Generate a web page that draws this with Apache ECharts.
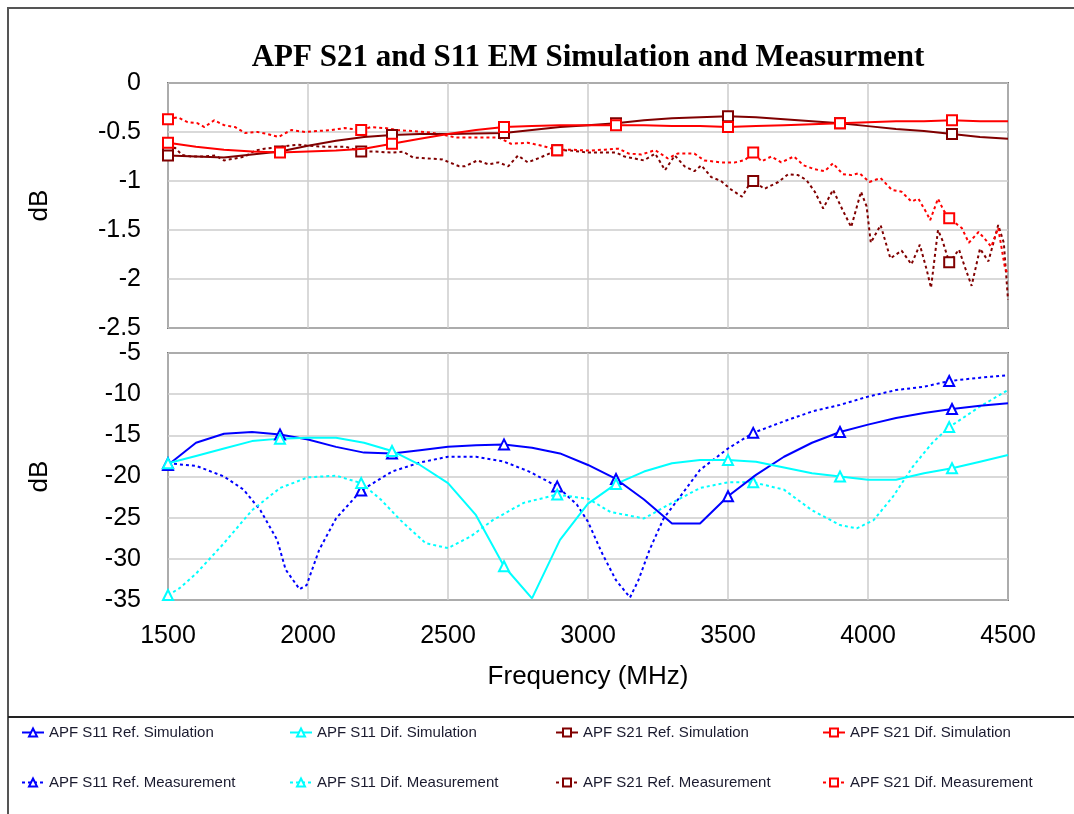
<!DOCTYPE html>
<html>
<head>
<meta charset="utf-8">
<script src="https://cdn.jsdelivr.net/npm/echarts@6/dist/echarts.min.js"></script>
<style>
html,body{margin:0;padding:0;background:#fff;}
#chart{width:1074px;height:814px;}
</style>
</head>
<body>
<div id="chart"></div>
<script>
// ---------- DATA ----------
var titleText = 'APF S21 and S11 EM Simulation and Measurment';
var xAxisTitle = 'Frequency (MHz)';
var yAxisTitle = 'dB';

var simFreq = [1500,1600,1700,1800,1900,2000,2100,2200,2300,2400,2500,2600,2700,2800,2900,3000,3100,3200,3300,3400,3500,3600,3700,3800,3900,4000,4100,4200,4300,4400,4500];
var simMarkerFreq = [1500,1900,2300,2700,3100,3500,3900,4300];
var measMarkerFreq = [1500,2190,2890,3590,4290];

var s11RefSim = [-18.6,-15.9,-14.8,-14.6,-14.9,-15.5,-16.4,-17.1,-17.2,-16.8,-16.4,-16.2,-16.1,-16.5,-17.2,-18.6,-20.3,-22.8,-25.7,-25.7,-22.4,-19.8,-17.6,-15.9,-14.6,-13.7,-12.9,-12.3,-11.8,-11.4,-11.1];
var s11DifSim = [-18.4,-17.5,-16.6,-15.7,-15.4,-15.3,-15.3,-15.9,-16.9,-18.6,-20.8,-24.7,-30.9,-34.8,-27.7,-23.3,-20.9,-19.4,-18.4,-18.0,-18.0,-18.2,-18.9,-19.6,-20.0,-20.4,-20.4,-19.6,-19.0,-18.2,-17.4];
var s21RefSim = [-0.74,-0.75,-0.76,-0.73,-0.70,-0.64,-0.59,-0.55,-0.53,-0.52,-0.52,-0.515,-0.51,-0.48,-0.45,-0.43,-0.41,-0.38,-0.36,-0.35,-0.34,-0.35,-0.37,-0.39,-0.41,-0.44,-0.47,-0.49,-0.52,-0.55,-0.57];
var s21DifSim = [-0.61,-0.65,-0.68,-0.70,-0.71,-0.70,-0.69,-0.67,-0.62,-0.57,-0.52,-0.48,-0.45,-0.44,-0.43,-0.43,-0.43,-0.43,-0.44,-0.44,-0.45,-0.44,-0.43,-0.42,-0.41,-0.40,-0.39,-0.39,-0.38,-0.39,-0.39];

var s11RefMeasFreq = [1500,1600,1700,1770,1830,1890,1920,1970,1995,2040,2100,2190,2300,2400,2500,2600,2700,2790,2890,2960,3000,3050,3100,3150,3180,3220,3270,3330,3400,3500,3590,3700,3800,3900,4000,4100,4200,4290,4400,4500];
var s11RefMeas = [-18.4,-18.7,-20.0,-21.6,-24.1,-27.7,-31.3,-33.7,-33.2,-28.9,-25.1,-21.7,-19.4,-18.3,-17.6,-17.6,-18.2,-19.4,-21.2,-23.4,-25.5,-29.3,-32.6,-34.7,-32.6,-28.9,-25.1,-22.4,-19.2,-16.6,-14.7,-13.3,-12.1,-11.3,-10.3,-9.5,-9.1,-8.4,-8.0,-7.7];

var s11DifMeasFreq = [1500,1540,1600,1700,1800,1900,2000,2100,2190,2260,2330,2420,2500,2580,2660,2770,2890,3000,3080,3200,3300,3400,3500,3590,3700,3800,3900,3960,4020,4090,4160,4230,4290,4400,4500];
var s11DifMeas = [-34.4,-33.6,-31.8,-28.1,-24.1,-21.4,-20.1,-19.9,-20.8,-22.8,-25.3,-28.1,-28.7,-27.3,-25.3,-23.2,-22.2,-22.7,-24.3,-25.1,-23.2,-21.4,-20.7,-20.7,-21.6,-24.1,-25.9,-26.3,-25.3,-22.4,-18.8,-15.9,-14.0,-11.5,-9.5];

var s21RefMeasFreq = [1500,1525,1550,1585,1630,1670,1700,1740,1775,1810,1845,1890,1930,1965,2000,2060,2135,2190,2240,2300,2340,2375,2430,2480,2540,2560,2605,2645,2680,2715,2750,2785,2830,2890,2940,3000,3060,3100,3130,3200,3240,3275,3310,3345,3380,3405,3440,3475,3510,3550,3575,3590,3630,3680,3715,3750,3780,3810,3840,3875,3910,3940,3975,3995,4010,4045,4080,4120,4155,4185,4210,4225,4250,4265,4290,4325,4345,4370,4400,4430,4465,4485,4500];
var s21RefMeas = [-0.69,-0.66,-0.735,-0.75,-0.75,-0.74,-0.79,-0.77,-0.75,-0.69,-0.67,-0.66,-0.64,-0.63,-0.64,-0.65,-0.65,-0.70,-0.70,-0.71,-0.70,-0.76,-0.77,-0.78,-0.85,-0.85,-0.79,-0.83,-0.81,-0.85,-0.74,-0.81,-0.76,-0.685,-0.69,-0.71,-0.71,-0.71,-0.75,-0.79,-0.72,-0.89,-0.74,-0.85,-0.90,-0.84,-0.96,-1.00,-1.085,-1.16,-1.04,-1.00,-1.08,-1.01,-0.93,-0.94,-0.99,-1.11,-1.28,-1.09,-1.30,-1.47,-1.11,-1.26,-1.63,-1.45,-1.79,-1.71,-1.85,-1.65,-1.91,-2.09,-1.50,-1.60,-1.83,-1.70,-1.87,-2.07,-1.69,-1.82,-1.45,-1.63,-2.21];

var s21DifMeasFreq = [1500,1535,1570,1605,1630,1665,1700,1740,1775,1820,1855,1895,1940,1990,2035,2085,2130,2190,2225,2275,2320,2370,2420,2470,2525,2600,2680,2725,2785,2835,2890,2940,3000,3060,3110,3145,3190,3240,3285,3320,3380,3415,3475,3525,3560,3590,3620,3655,3690,3735,3770,3810,3845,3875,3910,3940,3970,4005,4045,4085,4120,4155,4180,4210,4222,4250,4270,4290,4335,4360,4395,4420,4440,4465,4490,4500];
var s21DifMeas = [-0.37,-0.35,-0.40,-0.41,-0.45,-0.38,-0.43,-0.45,-0.51,-0.50,-0.52,-0.55,-0.48,-0.50,-0.49,-0.48,-0.46,-0.48,-0.45,-0.46,-0.48,-0.49,-0.50,-0.52,-0.555,-0.555,-0.555,-0.62,-0.61,-0.64,-0.685,-0.68,-0.69,-0.68,-0.67,-0.72,-0.73,-0.685,-0.77,-0.72,-0.72,-0.79,-0.81,-0.81,-0.786,-0.71,-0.80,-0.75,-0.81,-0.75,-0.84,-0.88,-0.90,-0.82,-0.93,-0.94,-0.92,-1.01,-0.97,-1.09,-1.11,-1.21,-1.18,-1.33,-1.40,-1.18,-1.30,-1.38,-1.48,-1.63,-1.52,-1.60,-1.67,-1.48,-1.90,-1.94];

// ---------- CHART ----------
var FONT = '"Liberation Sans", Arial, sans-serif';
var chart = echarts.init(document.getElementById('chart'), null, {renderer: 'canvas'});

function buildData(freqs, vals, markers, sym) {
  return freqs.map(function (f, i) {
    return { value: [f, vals[i]], symbol: markers.indexOf(f) >= 0 ? sym : 'none' };
  });
}

function mkSeries(name, freqs, vals, markers, sym, color, dashed, gridIdx) {
  return {
    name: name,
    type: 'line',
    xAxisIndex: gridIdx,
    yAxisIndex: gridIdx,
    data: buildData(freqs, vals, markers, sym),
    symbol: sym,
    symbolSize: 10,
    showSymbol: true,
    showAllSymbol: true,
    smooth: false,
    clip: true,
    lineStyle: { color: color, width: 2, type: dashed ? [3, 3] : 'solid' },
    itemStyle: { color: color, borderColor: color, borderWidth: 2 },
    emphasis: { disabled: true },
    z: dashed ? 2 : 3
  };
}

var BLUE = '#0000FF', CYAN = '#00FFFF', DRED = '#800000', RED = '#FF0000';

var series = [
  mkSeries('APF S11 Ref. Simulation', simFreq, s11RefSim, simMarkerFreq, 'emptyTriangle', BLUE, false, 1),
  mkSeries('APF S11 Dif. Simulation', simFreq, s11DifSim, simMarkerFreq, 'emptyTriangle', CYAN, false, 1),
  mkSeries('APF S21 Ref. Simulation', simFreq, s21RefSim, simMarkerFreq, 'emptyRect', DRED, false, 0),
  mkSeries('APF S21 Dif. Simulation', simFreq, s21DifSim, simMarkerFreq, 'emptyRect', RED, false, 0),
  mkSeries('APF S11 Ref. Measurement', s11RefMeasFreq, s11RefMeas, measMarkerFreq, 'emptyTriangle', BLUE, true, 1),
  mkSeries('APF S11 Dif. Measurement', s11DifMeasFreq, s11DifMeas, measMarkerFreq, 'emptyTriangle', CYAN, true, 1),
  mkSeries('APF S21 Ref. Measurement', s21RefMeasFreq, s21RefMeas, measMarkerFreq, 'emptyRect', DRED, true, 0),
  mkSeries('APF S21 Dif. Measurement', s21DifMeasFreq, s21DifMeas, measMarkerFreq, 'emptyRect', RED, true, 0)
];

var legendCols = [
  { left: 21, names: ['APF S11 Ref. Simulation', 'APF S11 Ref. Measurement'] },
  { left: 289, names: ['APF S11 Dif. Simulation', 'APF S11 Dif. Measurement'] },
  { left: 555, names: ['APF S21 Ref. Simulation', 'APF S21 Ref. Measurement'] },
  { left: 822, names: ['APF S21 Dif. Simulation', 'APF S21 Dif. Measurement'] }
];

var legends = legendCols.map(function (c) {
  return {
    data: c.names,
    left: c.left,
    top: 725,
    orient: 'vertical',
    padding: 0,
    itemGap: 35,
    itemWidth: 22,
    itemHeight: 10,
    selectedMode: false,
    textStyle: { fontFamily: FONT, fontSize: 15, color: '#1a1a2e' }
  };
});

var gridLine = { show: true, lineStyle: { color: '#cccccc', width: 1.5 } };
var axisLabelStyle = { fontFamily: FONT, fontSize: 25, color: '#000' };
var nameStyle = { fontFamily: FONT, fontSize: 26, color: '#000' };

var option = {
  animation: false,
  backgroundColor: '#fff',
  graphic: [
    { type: 'rect', shape: { x: 8, y: 8, width: 1100, height: 850 }, style: { fill: 'none', stroke: '#555', lineWidth: 2 }, silent: true, z: -1 },
    { type: 'line', shape: { x1: 8, y1: 717, x2: 1074, y2: 717 }, style: { stroke: '#222', lineWidth: 2 }, silent: true },
    { type: 'text', x: 588, y: 58, style: { text: titleText, font: 'bold 31px "Liberation Serif", "Times New Roman", serif', fill: '#000', align: 'center', verticalAlign: 'middle' }, silent: true }
  ],
  legend: legends,
  grid: [
    { left: 168, top: 83, width: 840, height: 245, show: true, borderColor: '#111', borderWidth: 1.5, backgroundColor: '#fff' },
    { left: 168, top: 353, width: 840, height: 247, show: true, borderColor: '#111', borderWidth: 1.5, backgroundColor: '#fff' }
  ],
  xAxis: [
    { type: 'value', gridIndex: 0, min: 1500, max: 4500, interval: 500,
      axisLine: { show: false }, axisTick: { show: false }, axisLabel: { show: false }, splitLine: gridLine },
    { type: 'value', gridIndex: 1, min: 1500, max: 4500, interval: 500,
      axisLine: { show: false }, axisTick: { show: false },
      axisLabel: Object.assign({ margin: 24, formatter: function (v) { return String(v); } }, axisLabelStyle),
      splitLine: gridLine,
      name: xAxisTitle, nameLocation: 'middle', nameGap: 64, nameTextStyle: nameStyle }
  ],
  yAxis: [
    { type: 'value', gridIndex: 0, min: -2.5, max: 0, interval: 0.5,
      axisLine: { show: false }, axisTick: { show: false },
      axisLabel: Object.assign({ margin: 27 }, axisLabelStyle), splitLine: gridLine,
      name: yAxisTitle, nameLocation: 'middle', nameGap: 115, nameRotate: 90, nameTextStyle: nameStyle },
    { type: 'value', gridIndex: 1, min: -35, max: -5, interval: 5,
      axisLine: { show: false }, axisTick: { show: false },
      axisLabel: Object.assign({ margin: 27 }, axisLabelStyle), splitLine: gridLine,
      name: yAxisTitle, nameLocation: 'middle', nameGap: 115, nameRotate: 90, nameTextStyle: nameStyle }
  ],
  series: series
};

chart.setOption(option);
</script>
</body>
</html>
